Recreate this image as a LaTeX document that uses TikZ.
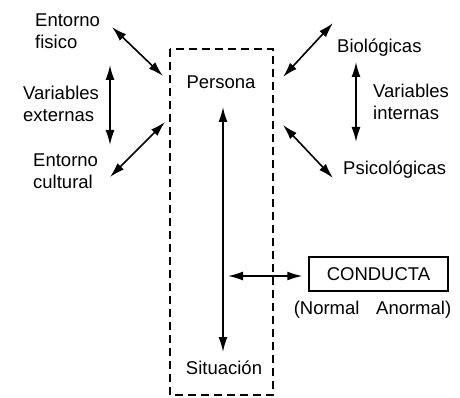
\documentclass[tikz,border=0pt]{standalone}
\usepackage{fontspec}
\setmainfont{Liberation Sans}
\usetikzlibrary{arrows.meta,positioning,calc}

\begin{document}
\begin{tikzpicture}[x=1pt,y=-1pt,
  every node/.style={font=\fontsize{18.5}{22}\selectfont},
  lbl/.style={anchor=west,align=left,inner sep=0pt},
  link/.style={line width=1.6pt,{Latex[length=15pt,width=9pt]}-{Latex[length=15pt,width=9pt]}},
  framebox/.style={draw,line width=1.4pt,dash pattern=on 8pt off 5pt}]
\useasboundingbox (0,0) rectangle (460,398);
% dashed frame
\draw[framebox] (170,49) rectangle (273,395);
% inside the frame
\node (persona) at (221,82) {Persona};
\node (situacion) at (224,368) {Situación};
% left labels
\node[lbl] (fisico) at (35,31) {Entorno\\fisico};
\node[lbl] (externas) at (23,104) {Variables\\externas};
\node[lbl] (cultural) at (33,171) {Entorno\\cultural};
% right labels
\node[lbl] (biologicas) at (337,48) {Biológicas};
\node[lbl] (internas) at (373,102) {Variables\\internas};
\node[lbl] (psicologicas) at (343,170) {Psicológicas};
% behaviour
\node[draw,line width=1.4pt,minimum width=139pt,minimum height=34pt,inner sep=0pt] (conducta) at (378.5,274) {CONDUCTA};
\node[below=9pt of conducta,xshift=-6pt,inner sep=0pt] (normal) {(Normal\hspace{0.9em}Anormal)};
% arrow ends
\coordinate (f1) at (112,27);  \coordinate (f2) at (163,76);
\coordinate (e1) at (110,65);  \coordinate (e2) at (110,145);
\coordinate (c1) at (110,177); \coordinate (c2) at (165,122);
\coordinate (b1) at (283,77);  \coordinate (b2) at (333,23);
\coordinate (i1) at (356,62);  \coordinate (i2) at (356,142);
\coordinate (p1) at (283,125); \coordinate (p2) at (333,178);
\coordinate (v1) at (223,107); \coordinate (v2) at (223,352);
\coordinate (h1) at (228,276);
\path[link]
(f1) edge (f2)
(e1) edge (e2)
(c1) edge (c2)
(b1) edge (b2)
(i1) edge (i2)
(p1) edge (p2)
(v1) edge (v2)
(h1) edge[shorten >=6pt] (h1 -| conducta.west)
;
\end{tikzpicture}
\end{document}
